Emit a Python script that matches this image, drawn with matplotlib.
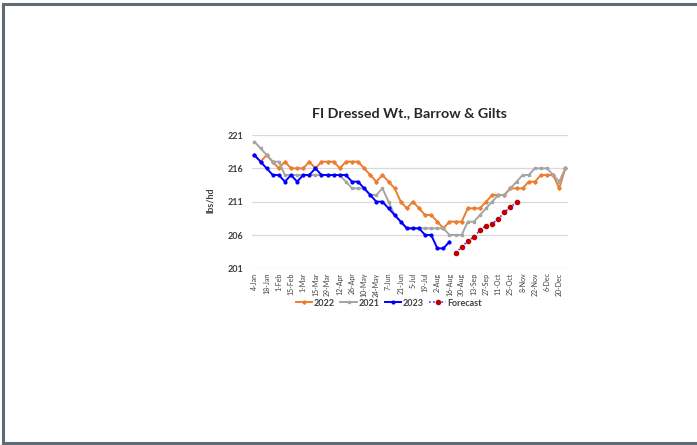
import numpy as np
import matplotlib
matplotlib.use("Agg")
import matplotlib.pyplot as plt
from matplotlib.lines import Line2D

# haftalik veriler (52 hafta, 4-Jan .. 27-Dec)
weeks = np.arange(52)

tick_labels = ["4-Jan", "18-Jan", "1-Feb", "15-Feb", "1-Mar", "15-Mar", "29-Mar",
               "12-Apr", "26-Apr", "10-May", "24-May", "7-Jun", "21-Jun", "5-Jul",
               "19-Jul", "2-Aug", "16-Aug", "30-Aug", "13-Sep", "27-Sep", "11-Oct",
               "25-Oct", "8-Nov", "22-Nov", "6-Dec", "20-Dec"]

y2022 = [218, 217, 218, 217, 216, 217, 216, 216, 216, 217, 216, 217, 217, 217,
         216, 217, 217, 217, 216, 215, 214, 215, 214, 213, 211, 210, 211, 210,
         209, 209, 208, 207, 208, 208, 208, 210, 210, 210, 211, 212, 212, 212,
         213, 213, 213, 214, 214, 215, 215, 215, 213, 216]

y2021 = [220, 219, 218, 217, 217, 215, 215, 215, 215, 215, 215, 215, 215, 215,
         215, 214, 213, 213, 213, 212, 212, 213, 211, 209, 208, 207, 207, 207,
         207, 207, 207, 207, 206, 206, 206, 208, 208, 209, 210, 211, 212, 212,
         213, 214, 215, 215, 216, 216, 216, 215, 214, 216]

y2023 = [218, 217, 216, 215, 215, 214, 215, 214, 215, 215, 216, 215, 215, 215,
         215, 215, 214, 214, 213, 212, 211, 211, 210, 209, 208, 207, 207, 207,
         206, 206, 204, 204, 205]

forecast_weeks = np.arange(33, 44)
forecast = [203.3, 204.2, 205.1, 205.7, 206.7, 207.4, 207.7, 208.4, 209.4, 210.2, 210.9]

y_ticks = [201, 206, 211, 216, 221]

fig = plt.figure(figsize=(6.97, 4.45), dpi=100)
ax = fig.add_axes([0.3611, 0.397, 0.4539, 0.2996])

ax.plot(weeks, y2022, color="#ED7D31", lw=1.4, marker="D", ms=1.8, label="2022")
ax.plot(weeks, y2021, color="#A5A5A5", lw=1.4, marker="s", ms=2.0, label="2021")
ax.plot(np.arange(len(y2023)), y2023, color="#0000FF", lw=1.4, marker="o", ms=2.0,
        label="2023")
ax.plot(forecast_weeks, forecast, color="#3D3DFF", lw=1.2, ls=(0, (1, 1.5)),
        marker="o", ms=3.0, mfc="#C00000", mec="#C00000", label="Forecast")

ax.set_xlim(-0.45, 51.45)
ax.set_ylim(201, 221)
ax.set_yticks(y_ticks)
ax.set_yticklabels([str(v) for v in y_ticks], fontsize=6.5, fontweight="bold",
                   family="Lato", color="#404040")
ax.set_xticks(weeks[::2])
ax.set_xticklabels(tick_labels, rotation=90, fontsize=5, family="Lato", color="#404040")
ax.tick_params(axis="both", length=0)
ax.tick_params(axis="y", pad=6)
ax.tick_params(axis="x", pad=3)
ax.grid(axis="y", color="#D9D9D9", lw=0.9)
ax.set_axisbelow(True)
for s in ax.spines.values():
    s.set_visible(False)

fig.text(410 / 697, 1 - 113 / 445, "FI Dressed Wt., Barrow & Gilts", ha="center",
         va="center", fontsize=10.3, fontweight="bold", family="Lato", color="#262626")
fig.text(210 / 697, 1 - 200 / 445, "lbs/hd", ha="center", va="center", rotation=90,
         fontsize=6.5, fontweight="bold", family="Lato", color="#404040")

leg = fig.legend(loc="center", bbox_to_anchor=(389 / 697, 1 - 303 / 445), ncol=4,
                 frameon=False, handlelength=1.8, columnspacing=0.6, handletextpad=0.2,
                 prop={"family": "Lato", "weight": "bold", "size": 6.5})
for t in leg.get_texts():
    t.set_color("#404040")

# dis cerceve: sol, ust ve alt kenar
x0, y0, y1 = 3.5 / 697, 2.5 / 445, 1 - 4 / 445
for xs, ys in [([x0, x0], [y0, y1]), ([x0, 1.0], [y1, y1]), ([x0, 1.0], [y0, y0])]:
    fig.add_artist(Line2D(xs, ys, transform=fig.transFigure, color="#5F6B75",
                          lw=2.2, solid_capstyle="projecting"))

fig.savefig("out.png", dpi=100)
